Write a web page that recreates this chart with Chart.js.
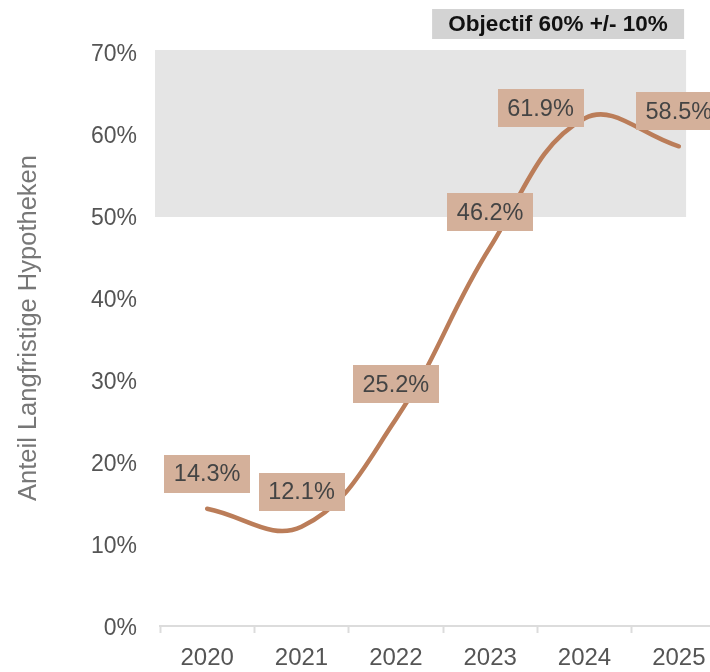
<!DOCTYPE html>
<html><head><meta charset="utf-8">
<script src="https://cdn.jsdelivr.net/npm/chart.js@4.4.1/dist/chart.umd.min.js"></script>
<style>
html,body{margin:0;padding:0;overflow:hidden;background:#fff;width:710px;height:672px}
#wrap{position:relative;width:740px;height:672px}
</style>
</head><body>
<div id="wrap"><canvas id="c" width="740" height="672"></canvas></div>
<script>
// ---- data ----
const years = ['2020', '2021', '2022', '2023', '2024', '2025'];
const shareLongTerm = [14.3, 12.1, 25.2, 46.2, 61.9, 58.5];
const yTickValues = [0, 10, 20, 30, 40, 50, 60, 70];
const targetLow = 50;
const targetHigh = 70;
const targetLabel = 'Objectif 60% +/- 10%';
const yAxisTitle = 'Anteil Langfristige Hypotheken';

// ---- styles ----
const FONT = '"Liberation Sans", Arial, Helvetica, sans-serif';
const LINE_COLOR = '#bb7d59';
const LABEL_BG = '#d4b09a';
const BAND_COLOR = '#e5e5e5';

const bandPlugin = {
  id: 'targetBand',
  beforeDatasetsDraw(chart, args, opts) {
    const {ctx, scales: {x, y}} = chart;
    const l = x.getPixelForValue(opts.xFrom), r = x.getPixelForValue(opts.xTo);
    const t = y.getPixelForValue(opts.high) - 2, b = y.getPixelForValue(opts.low) + 1;
    ctx.save();
    ctx.fillStyle = opts.color;
    ctx.fillRect(l, t, r - l, b - t);
    // target caption box
    const bw = 252, bh = 30;
    const bx = r - 2 - bw, by = 9;
    ctx.fillStyle = '#d3d3d3';
    ctx.fillRect(bx, by, bw, bh);
    ctx.fillStyle = '#111';
    ctx.font = 'bold 22.5px ' + FONT;
    ctx.textAlign = 'center';
    ctx.textBaseline = 'middle';
    ctx.fillText(opts.text, bx + bw / 2, by + bh / 2 + 1);
    ctx.restore();
  }
};

const labelPlugin = {
  id: 'valueLabels',
  afterDatasetsDraw(chart, args, opts) {
    const {ctx} = chart;
    const meta = chart.getDatasetMeta(0);
    const vals = chart.data.datasets[0].data;
    ctx.save();
    ctx.font = '23.5px ' + FONT;
    ctx.textAlign = 'center';
    ctx.textBaseline = 'middle';
    meta.data.forEach((pt, i) => {
      const off = opts.offsets[i] || [0, 0];
      const txt = vals[i].toFixed(1) + '%';
      const w = ctx.measureText(txt).width + 2 * opts.padX;
      const h = opts.boxH;
      const cx = pt.x + off[0];
      const cy = pt.y - opts.lift + off[1];
      ctx.fillStyle = opts.bg;
      ctx.fillRect(Math.round(cx - w / 2), Math.round(cy - h / 2), Math.round(w), h);
      ctx.fillStyle = '#444';
      ctx.fillText(txt, cx, cy + 1);
    });
    ctx.restore();
  }
};

const yTitlePlugin = {
  id: 'yTitle',
  afterDraw(chart, args, opts) {
    const {ctx, chartArea} = chart;
    ctx.save();
    ctx.translate(opts.x, (chartArea.top + chartArea.bottom) / 2 + opts.dy);
    ctx.rotate(-Math.PI / 2);
    ctx.font = '25.5px ' + FONT;
    ctx.fillStyle = '#777';
    ctx.textAlign = 'center';
    ctx.textBaseline = 'middle';
    ctx.fillText(opts.text, 0, 0);
    ctx.restore();
  }
};

new Chart(document.getElementById('c'), {
  type: 'line',
  data: {
    labels: years,
    datasets: [{
      data: shareLongTerm,
      borderColor: LINE_COLOR,
      borderWidth: 4.5,
      borderCapStyle: 'round',
      borderJoinStyle: 'round',
      tension: 0.4,
      pointRadius: 0,
      pointHoverRadius: 0,
      fill: false,
      clip: false
    }]
  },
  options: {
    responsive: false,
    animation: false,
    events: [],
    layout: {padding: {top: 52, right: 14, bottom: 0, left: 0}},
    plugins: {
      legend: {display: false},
      tooltip: {enabled: false},
      targetBand: {xFrom: -0.553, xTo: 5.077, low: targetLow, high: targetHigh, color: BAND_COLOR, text: targetLabel},
      valueLabels: {lift: 35, padX: 9.5, boxH: 38, bg: LABEL_BG, offsets: [[0,0],[0,0],[0,0],[0,0],[-44,25],[0,0]]},
      yTitle: {text: yAxisTitle, x: 29, dy: -11}
    },
    scales: {
      x: {
        type: 'category',
        offset: true,
        afterFit(s) { s.height = 46; },
        grid: {display: true, drawOnChartArea: false, offset: true, tickLength: 7, tickWidth: 2, color: '#dcdcdc'},
        border: {display: true, color: '#dcdcdc', width: 2},
        ticks: {color: '#555', font: {family: FONT, size: 24}, padding: 11, maxRotation: 0, autoSkip: false}
      },
      y: {
        min: 0, max: 70,
        afterFit(s) { s.width = 160; },
        afterBuildTicks(s) { s.ticks = yTickValues.map(v => ({value: v})); },
        grid: {display: false, drawTicks: false},
        border: {display: false},
        ticks: {color: '#555', font: {family: FONT, size: 23}, padding: 23, labelOffset: 3, callback: v => v + '%'}
      }
    }
  },
  plugins: [bandPlugin, labelPlugin, yTitlePlugin]
});
</script>
</body></html>
